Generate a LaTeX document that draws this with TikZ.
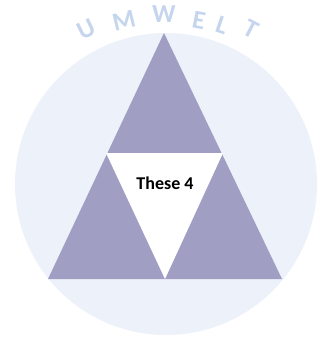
\documentclass[tikz,border=0pt]{standalone}
\usepackage{fontspec}
\setmainfont{Carlito}
\definecolor{circbg}{HTML}{EDF1FA}
\definecolor{tri}{HTML}{A09EC2}
\definecolor{umw}{HTML}{C6D5EE}
\begin{document}
\begin{tikzpicture}[x=1pt,y=-1pt,
  letter/.style={text=umw,font=\bfseries\fontsize{26}{26}\selectfont,inner sep=0pt,anchor=center},
  label/.style={font=\bfseries\fontsize{18}{18}\selectfont,inner sep=0pt}]
\useasboundingbox (0,0) rectangle (333,338);
\fill[circbg] (166,184) circle[radius=151];
\fill[tri] (164,33) -- (282,279) -- (48,279) -- cycle;
\fill[white] (106,153) -- (223,153) -- (165,279) -- cycle;
\node[label] (t4) at (165,183) {These 4};
\node[letter,rotate=26] (lU) at (86,29) {U};
\node[letter,rotate=13.6] (lM) at (124,21) {M};
\node[letter] (lW) at (164,14) {W};
\node[letter,rotate=-11] (lE) at (199,20) {E};
\node[letter,rotate=-18.7] (lL) at (222,25) {L};
\node[letter,rotate=-27.8] (lT) at (251,29) {T};
\end{tikzpicture}
\end{document}
